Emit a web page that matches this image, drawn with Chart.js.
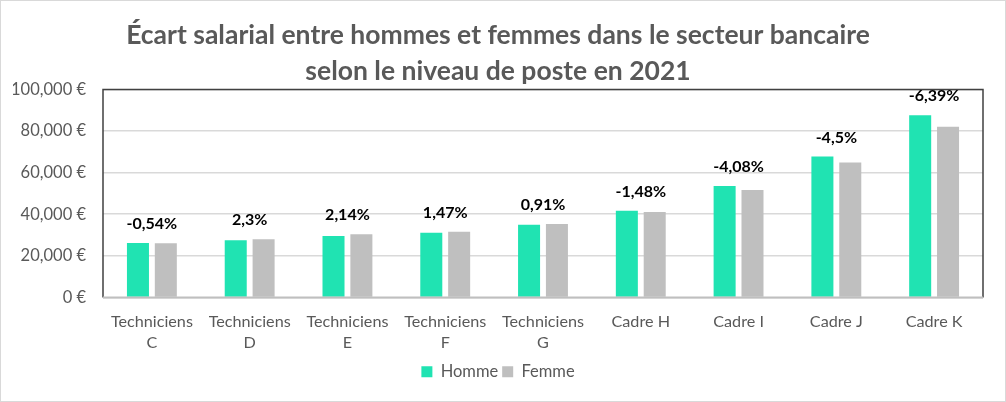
<!DOCTYPE html>
<html>
<head>
<meta charset="utf-8">
<script src="https://cdn.jsdelivr.net/npm/chart.js@4"></script>
<style>
  html, body { margin: 0; padding: 0; background: #fff; }
  #wrap { width: 1004px; height: 400px; border: 1px solid #d9d9d9; position: relative; }
</style>
</head>
<body>
<div id="wrap"><canvas id="c"></canvas></div>
<script>
// categories and values
const categories = [
  ["Techniciens", "C"], ["Techniciens", "D"], ["Techniciens", "E"],
  ["Techniciens", "F"], ["Techniciens", "G"],
  "Cadre H", "Cadre I", "Cadre J", "Cadre K"
];
const homme = [26200, 27500, 29500, 31100, 34900, 41700, 53600, 67800, 87600];
const femme = [26100, 28000, 30400, 31600, 35300, 41100, 51700, 64900, 82100];
const ecarts = ["-0,54%", "2,3%", "2,14%", "1,47%", "0,91%", "-1,48%", "-4,08%", "-4,5%", "-6,39%"];
const yTicks = [0, 20000, 40000, 60000, 80000, 100000];

const textGrey = "#595959";

// percentage gap drawn above each pair of bars, plus the dark frame of the plot area
const ecartLabels = {
  id: "ecartLabels",
  afterDatasetsDraw(chart) {
    const ctx = chart.ctx;
    const a = chart.chartArea;
    ctx.save();
    ctx.strokeStyle = "#404040";
    ctx.lineWidth = 1.5;
    ctx.beginPath();
    ctx.moveTo(a.left, a.bottom);
    ctx.lineTo(a.left, a.top);
    ctx.lineTo(a.right, a.top);
    ctx.lineTo(a.right, a.bottom);
    ctx.stroke();
    ctx.strokeStyle = "#bfbfbf";
    ctx.lineWidth = 2;
    ctx.beginPath();
    ctx.moveTo(a.left, a.bottom);
    ctx.lineTo(a.right, a.bottom);
    ctx.stroke();

    ctx.font = "bold 16px Lato";
    ctx.fillStyle = "#000";
    ctx.textAlign = "center";
    ctx.textBaseline = "middle";
    const m0 = chart.getDatasetMeta(0), m1 = chart.getDatasetMeta(1);
    ecarts.forEach((t, i) => {
      const b0 = m0.data[i], b1 = m1.data[i];
      const x = (b0.x + b1.x) / 2;
      const y = Math.min(b0.y, b1.y) - 19;
      ctx.fillText(t, x, y);
    });
    ctx.restore();
  }
};

new Chart(document.getElementById("c"), {
  type: "bar",
  data: {
    labels: categories,
    datasets: [
      { label: "Homme", data: homme, backgroundColor: "#20e3b2", categoryPercentage: 0.57, barPercentage: 0.79 },
      { label: "Femme", data: femme, backgroundColor: "#bfbfbf", categoryPercentage: 0.57, barPercentage: 0.79 }
    ]
  },
  options: {
    responsive: true,
    maintainAspectRatio: false,
    animation: false,
    layout: { padding: { left: 12, right: 22, top: 9, bottom: 11 } },
    plugins: {
      title: {
        display: true,
        text: ["Écart salarial entre hommes et femmes dans le secteur bancaire", "selon le niveau de poste en 2021"],
        color: textGrey,
        font: { family: "Lato", size: 26.5, weight: "bold", lineHeight: 1.35 },
        padding: { top: 8, bottom: 0 }
      },
      legend: {
        position: "bottom",
        labels: {
          color: textGrey,
          font: { family: "Lato", size: 16.5 },
          boxWidth: 11, boxHeight: 11, padding: 4
        }
      },
      tooltip: { enabled: false }
    },
    scales: {
      x: {
        grid: { display: false },
        border: { display: false },
        ticks: { color: textGrey, font: { family: "Lato", size: 16.2, lineHeight: 1.3 }, maxRotation: 0, padding: 6 }
      },
      y: {
        min: 0, max: 100000,
        afterBuildTicks(scale) { scale.ticks = yTicks.map(v => ({ value: v })); },
        afterFit(scale) { scale.width = 90; },
        grid: { color: "#d9d9d9", lineWidth: 1.5, drawTicks: false },
        border: { display: false },
        ticks: {
          color: textGrey, font: { family: "Lato", size: 16.5 }, padding: 17,
          callback: v => v.toLocaleString("en-US") + " €"
        }
      }
    }
  },
  plugins: [ecartLabels]
});
</script>
</body>
</html>
